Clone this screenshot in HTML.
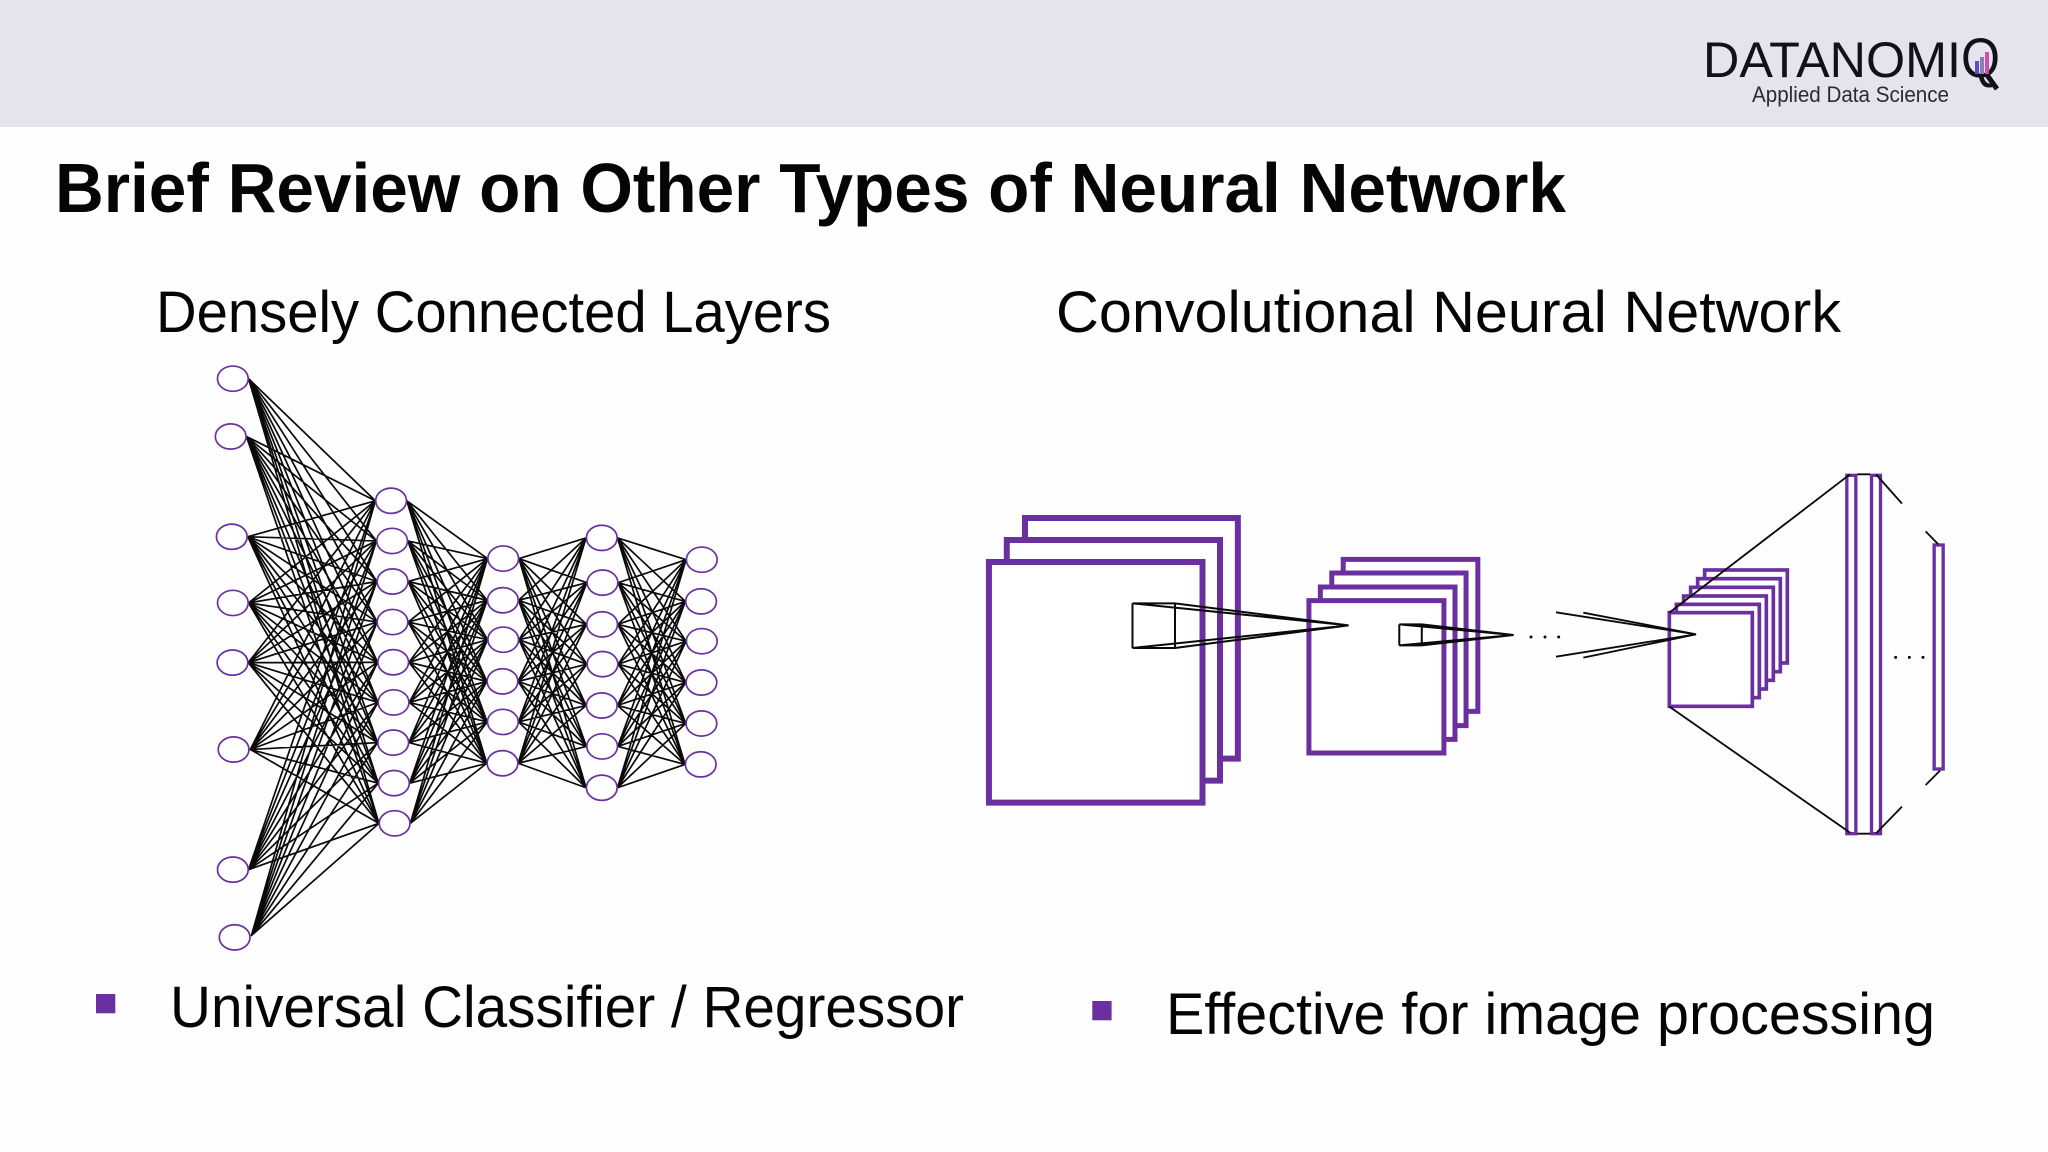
<!DOCTYPE html>
<html><head><meta charset="utf-8"><style>html,body{margin:0;padding:0;background:#fff}svg{display:block}text{font-family:"Liberation Sans",sans-serif;fill:#050505}</style></head><body>
<svg width="2048" height="1152" viewBox="0 0 2048 1152" xmlns="http://www.w3.org/2000/svg">
<rect width="2048" height="1152" fill="#fefefe"/>
<rect width="2048" height="127" fill="#e4e3ee"/>
<text x="1703" y="77" font-size="50" textLength="258" lengthAdjust="spacingAndGlyphs" style="fill:#111118">DATANOMI</text>
<text x="1961" y="77" font-size="56" textLength="39" lengthAdjust="spacingAndGlyphs" style="fill:#111118">Q</text>
<rect x="1975" y="61" width="4" height="13" fill="#5a50c0"/><rect x="1980" y="57" width="4" height="17" fill="#8a80b0"/><rect x="1985" y="52" width="4" height="22" fill="#d050b0"/>
<line x1="1987" y1="75" x2="1997" y2="89" stroke="#111118" stroke-width="5"/>
<text x="1752" y="102" font-size="22" textLength="197" lengthAdjust="spacingAndGlyphs" style="fill:#2b2b33">Applied Data Science</text>
<text x="55" y="212" font-size="70" font-weight="bold" textLength="1511" lengthAdjust="spacingAndGlyphs">Brief Review on Other Types of Neural Network</text>
<text x="156" y="332" font-size="58" textLength="675" lengthAdjust="spacingAndGlyphs">Densely Connected Layers</text>
<text x="1056" y="332" font-size="58" textLength="785" lengthAdjust="spacingAndGlyphs">Convolutional Neural Network</text>
<rect x="96" y="994" width="19.3" height="19.3" fill="#6b30a0"/>
<text x="170" y="1027" font-size="58" textLength="794" lengthAdjust="spacingAndGlyphs">Universal Classifier / Regressor</text>
<rect x="1092.3" y="1001" width="19.3" height="19.3" fill="#6b30a0"/>
<text x="1166" y="1034" font-size="58" textLength="769" lengthAdjust="spacingAndGlyphs">Effective for image processing</text>

<g transform="translate(180 350) scale(.35714 .38265)">
<g fill="none" stroke="#0a0a0a" stroke-width="1.7" stroke-linejoin="round">
<path vector-effect="non-scaling-stroke" d="M192 75 547 394 192 75 550 499 192 75 551 605 192 75 552 711 192 75 553 816 192 75 554 921 192 75 553 1026 192 75 555 1132 192 75 557 1237M186 226 547 394 186 226 550 499 186 226 551 605 186 226 552 711 186 226 553 816 186 226 554 921 186 226 553 1026 186 226 555 1132 186 226 557 1237M190 488 547 394 190 488 550 499 190 488 551 605 190 488 552 711 190 488 553 816 190 488 554 921 190 488 553 1026 190 488 555 1132 190 488 557 1237M192 661 547 394 192 661 550 499 192 661 551 605 192 661 552 711 192 661 553 816 192 661 554 921 192 661 553 1026 192 661 555 1132 192 661 557 1237M191 817 547 394 191 817 550 499 191 817 551 605 191 817 552 711 191 817 553 816 191 817 554 921 191 817 553 1026 191 817 555 1132 191 817 557 1237M197 1044 547 394 197 1044 550 499 197 1044 551 605 197 1044 552 711 197 1044 553 816 197 1044 554 921 197 1044 553 1026 197 1044 555 1132 197 1044 557 1237M192 1358 547 394 192 1358 550 499 192 1358 551 605 192 1358 552 711 192 1358 553 816 192 1358 554 921 192 1358 553 1026 192 1358 555 1132 192 1358 557 1237M200 1530 547 394 200 1530 550 499 200 1530 551 605 200 1530 552 711 200 1530 553 816 200 1530 554 921 200 1530 553 1026 200 1530 555 1132 200 1530 557 1237"/>
<path vector-effect="non-scaling-stroke" d="M635 394 861 545 635 394 860 654 635 394 861 757 635 394 859 866 635 394 860 972 635 394 859 1080M638 499 861 545 638 499 860 654 638 499 861 757 638 499 859 866 638 499 860 972 638 499 859 1080M639 605 861 545 639 605 860 654 639 605 861 757 639 605 859 866 639 605 860 972 639 605 859 1080M639 711 861 545 639 711 860 654 639 711 861 757 639 711 859 866 639 711 860 972 639 711 859 1080M641 816 861 545 641 816 860 654 641 816 861 757 641 816 859 866 641 816 860 972 641 816 859 1080M642 921 861 545 642 921 860 654 642 921 861 757 642 921 859 866 642 921 860 972 642 921 859 1080M641 1026 861 545 641 1026 860 654 641 1026 861 757 641 1026 859 866 641 1026 860 972 641 1026 859 1080M643 1132 861 545 643 1132 860 654 643 1132 861 757 643 1132 859 866 643 1132 860 972 643 1132 859 1080M645 1237 861 545 645 1237 860 654 645 1237 861 757 645 1237 859 866 645 1237 860 972 645 1237 859 1080"/>
<path vector-effect="non-scaling-stroke" d="M949 545 1137 491 949 545 1139 608 949 545 1138 717 949 545 1139 821 949 545 1137 929 949 545 1138 1036 949 545 1137 1144M948 654 1137 491 948 654 1139 608 948 654 1138 717 948 654 1139 821 948 654 1137 929 948 654 1138 1036 948 654 1137 1144M949 757 1137 491 949 757 1139 608 949 757 1138 717 949 757 1139 821 949 757 1137 929 949 757 1138 1036 949 757 1137 1144M947 866 1137 491 947 866 1139 608 947 866 1138 717 947 866 1139 821 947 866 1137 929 947 866 1138 1036 947 866 1137 1144M948 972 1137 491 948 972 1139 608 948 972 1138 717 948 972 1139 821 948 972 1137 929 948 972 1138 1036 948 972 1137 1144M947 1080 1137 491 947 1080 1139 608 947 1080 1138 717 947 1080 1139 821 947 1080 1137 929 947 1080 1138 1036 947 1080 1137 1144"/>
<path vector-effect="non-scaling-stroke" d="M1225 491 1417 548 1225 491 1415 657 1225 491 1417 761 1225 491 1416 869 1225 491 1416 976 1225 491 1414 1083M1227 608 1417 548 1227 608 1415 657 1227 608 1417 761 1227 608 1416 869 1227 608 1416 976 1227 608 1414 1083M1226 717 1417 548 1226 717 1415 657 1226 717 1417 761 1226 717 1416 869 1226 717 1416 976 1226 717 1414 1083M1227 821 1417 548 1227 821 1415 657 1227 821 1417 761 1227 821 1416 869 1227 821 1416 976 1227 821 1414 1083M1225 929 1417 548 1225 929 1415 657 1225 929 1417 761 1225 929 1416 869 1225 929 1416 976 1225 929 1414 1083M1226 1036 1417 548 1226 1036 1415 657 1226 1036 1417 761 1226 1036 1416 869 1226 1036 1416 976 1226 1036 1414 1083M1225 1144 1417 548 1225 1144 1415 657 1225 1144 1417 761 1225 1144 1416 869 1225 1144 1416 976 1225 1144 1414 1083"/>
</g>
<g fill="#fff" stroke="#6b30a0" stroke-width="1.7">
<ellipse vector-effect="non-scaling-stroke" cx="148" cy="75" rx="43" ry="33"/><ellipse vector-effect="non-scaling-stroke" cx="142" cy="226" rx="43" ry="33"/><ellipse vector-effect="non-scaling-stroke" cx="145" cy="488" rx="43" ry="33"/><ellipse vector-effect="non-scaling-stroke" cx="148" cy="661" rx="43" ry="33"/><ellipse vector-effect="non-scaling-stroke" cx="147" cy="817" rx="43" ry="33"/><ellipse vector-effect="non-scaling-stroke" cx="150" cy="1044" rx="43" ry="33"/><ellipse vector-effect="non-scaling-stroke" cx="148" cy="1358" rx="43" ry="33"/><ellipse vector-effect="non-scaling-stroke" cx="153" cy="1535" rx="43" ry="33"/>
<ellipse vector-effect="non-scaling-stroke" cx="591" cy="394" rx="43" ry="33"/><ellipse vector-effect="non-scaling-stroke" cx="594" cy="499" rx="43" ry="33"/><ellipse vector-effect="non-scaling-stroke" cx="595" cy="605" rx="43" ry="33"/><ellipse vector-effect="non-scaling-stroke" cx="595" cy="711" rx="43" ry="33"/><ellipse vector-effect="non-scaling-stroke" cx="597" cy="816" rx="43" ry="33"/><ellipse vector-effect="non-scaling-stroke" cx="598" cy="921" rx="43" ry="33"/><ellipse vector-effect="non-scaling-stroke" cx="597" cy="1026" rx="43" ry="33"/><ellipse vector-effect="non-scaling-stroke" cx="599" cy="1132" rx="43" ry="33"/><ellipse vector-effect="non-scaling-stroke" cx="601" cy="1237" rx="43" ry="33"/>
<ellipse vector-effect="non-scaling-stroke" cx="905" cy="545" rx="43" ry="33"/><ellipse vector-effect="non-scaling-stroke" cx="904" cy="654" rx="43" ry="33"/><ellipse vector-effect="non-scaling-stroke" cx="905" cy="757" rx="43" ry="33"/><ellipse vector-effect="non-scaling-stroke" cx="903" cy="866" rx="43" ry="33"/><ellipse vector-effect="non-scaling-stroke" cx="904" cy="972" rx="43" ry="33"/><ellipse vector-effect="non-scaling-stroke" cx="903" cy="1080" rx="43" ry="33"/>
<ellipse vector-effect="non-scaling-stroke" cx="1181" cy="491" rx="43" ry="33"/><ellipse vector-effect="non-scaling-stroke" cx="1183" cy="608" rx="43" ry="33"/><ellipse vector-effect="non-scaling-stroke" cx="1182" cy="717" rx="43" ry="33"/><ellipse vector-effect="non-scaling-stroke" cx="1183" cy="821" rx="43" ry="33"/><ellipse vector-effect="non-scaling-stroke" cx="1181" cy="929" rx="43" ry="33"/><ellipse vector-effect="non-scaling-stroke" cx="1182" cy="1036" rx="43" ry="33"/><ellipse vector-effect="non-scaling-stroke" cx="1181" cy="1144" rx="43" ry="33"/>
<ellipse vector-effect="non-scaling-stroke" cx="1461" cy="548" rx="43" ry="33"/><ellipse vector-effect="non-scaling-stroke" cx="1459" cy="657" rx="43" ry="33"/><ellipse vector-effect="non-scaling-stroke" cx="1461" cy="761" rx="43" ry="33"/><ellipse vector-effect="non-scaling-stroke" cx="1460" cy="869" rx="43" ry="33"/><ellipse vector-effect="non-scaling-stroke" cx="1460" cy="976" rx="43" ry="33"/><ellipse vector-effect="non-scaling-stroke" cx="1458" cy="1083" rx="43" ry="33"/>
</g>
</g>

<g transform="translate(970 490) scale(.35714 .33333)">
<g fill="#fff" stroke="#6b30a0" stroke-width="6">
<rect vector-effect="non-scaling-stroke" x="154" y="84" width="596" height="722"/>
<rect vector-effect="non-scaling-stroke" x="103" y="150" width="597" height="722"/>
<rect vector-effect="non-scaling-stroke" x="53" y="216" width="598" height="722"/>
</g>
<g fill="#fff" stroke="#6b30a0" stroke-width="5">
<rect vector-effect="non-scaling-stroke" x="1045" y="208" width="377" height="456"/>
<rect vector-effect="non-scaling-stroke" x="1013" y="249" width="376" height="458"/>
<rect vector-effect="non-scaling-stroke" x="981" y="291" width="377" height="457"/>
<rect vector-effect="non-scaling-stroke" x="949" y="332" width="378" height="457"/>
</g>
<g fill="none" stroke="#0a0a0a" stroke-width="2">
<path vector-effect="non-scaling-stroke" d="M1060 406 455 340H574L1060 406 574 474H455L1060 406M455 340V474M574 340V474"/>
<path vector-effect="non-scaling-stroke" d="M1522 435 1202 403H1265L1522 435 1265 466H1202L1522 435M1202 403V466M1265 403V466"/>
</g>
</g>

<g transform="translate(1520 460) scale(.33333)">
<g fill="#fff" stroke="#6b30a0">
<rect x="554" y="330" width="248" height="279" stroke-width="11"/>
<rect x="533" y="356" width="248" height="279" stroke-width="11"/>
<rect x="512" y="382" width="248" height="279" stroke-width="11"/>
<rect x="491" y="408" width="248" height="279" stroke-width="11"/>
<rect x="469" y="433" width="249" height="280" stroke-width="11"/>
<rect x="448" y="458" width="249" height="281" stroke-width="11"/>
<rect x="980.5" y="46" width="27" height="1075" stroke-width="10"/>
<rect x="1054.5" y="46" width="27" height="1075" stroke-width="10"/>
<rect x="1242.5" y="255" width="27" height="672" stroke-width="10"/>
</g>
<g fill="none" stroke="#0a0a0a" stroke-width="5.5">
<path d="M448 458 990 43M448 740 990 1118M1012 43H1050M1012 1121H1050M1068 43 1146 131M1068 1120 1146 1040M1217 214 1255 253M1217 975 1260 932"/>
<path d="M108 457 528 523 108 590M190 458 528 523 190 593"/>
</g>
<g fill="#0a0a0a"><circle cx="33" cy="531" r="4.5"/><circle cx="75" cy="531" r="4.5"/><circle cx="116" cy="531" r="4.5"/><circle cx="1127" cy="592" r="4.5"/><circle cx="1168" cy="592" r="4.5"/><circle cx="1209" cy="592" r="4.5"/></g>
</g>
</svg>
</body></html>
